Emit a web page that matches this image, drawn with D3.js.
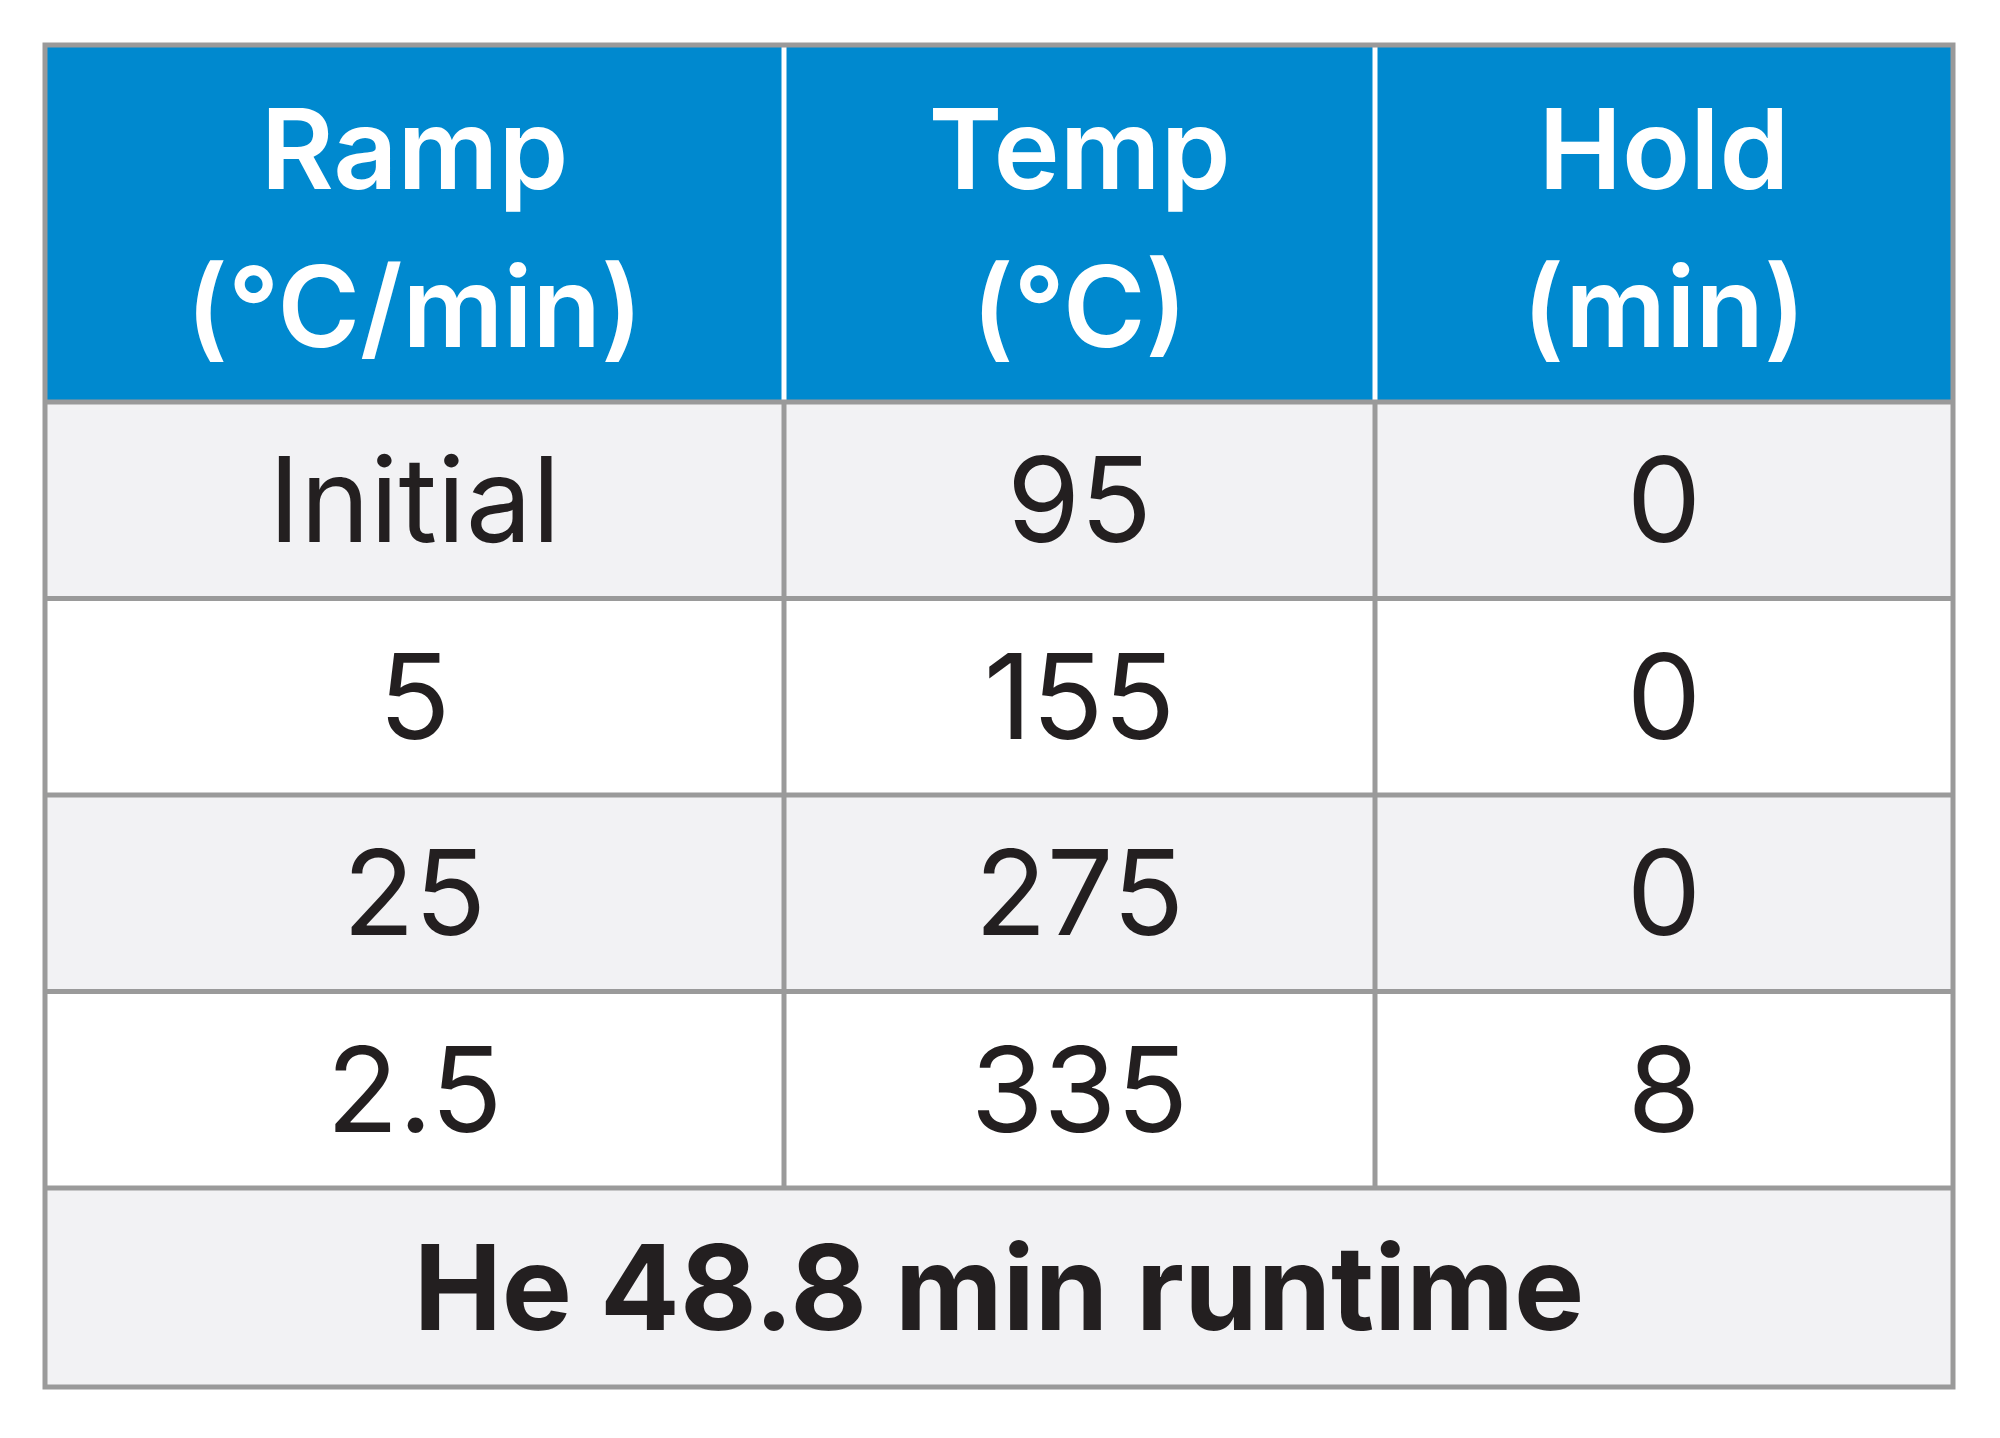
<!DOCTYPE html>
<html><head><meta charset="utf-8">
<script src="https://cdn.jsdelivr.net/npm/d3@7"></script>
<style>body{margin:0;background:#fff}</style></head>
<body><svg id="c" width="2000" height="1438"></svg>
<script>
const headers = [["Ramp","(°C/min)"],["Temp","(°C)"],["Hold","(min)"]];
const ramp = ["Initial","5","25","2.5"];
const temp = ["95","155","275","335"];
const hold = ["0","0","0","8"];
const footer = "He 48.8 min runtime";

const svg = d3.select("#c");
const L=45,R=1953,T=45,HB=402,RB=1188,B=1387;
const colEdges=[L,784,1375,R];
const x0 = i=>colEdges[i], xc=i=>(colEdges[i]+colEdges[i+1])/2;
const y = d3.scaleBand().domain(d3.range(4)).range([HB,RB]);
const font="Inter, 'Liberation Sans', Arial, sans-serif";

// header
svg.append("rect").attr("x",L).attr("y",T).attr("width",R-L).attr("height",HB-T).attr("fill","#0089CF");
// rows
svg.selectAll(".row").data(d3.range(4)).join("rect")
  .attr("x",L).attr("y",i=>y(i)).attr("width",R-L).attr("height",y.bandwidth())
  .attr("fill",i=>i%2===0?"#F2F2F4":"#FFFFFF");
svg.append("rect").attr("x",L).attr("y",RB).attr("width",R-L).attr("height",B-RB).attr("fill","#F2F2F4");

// header text
headers.forEach((h,i)=>{
  h.forEach((t,j)=>svg.append("text").attr("x",xc(i)).attr("y",j?347:189)
    .attr("text-anchor","middle").attr("font-family",font).attr("font-weight",600)
    .attr("font-size",112).attr("fill","#fff").text(t));
});
// body text
[ramp,temp,hold].forEach((col,ci)=>{
  svg.selectAll(null).data(col).join("text")
    .attr("x",xc(ci)).attr("y",(d,i)=>y(i)+y.bandwidth()/2+42)
    .attr("text-anchor","middle").attr("font-family",font).attr("font-weight",400)
    .attr("font-size",118).attr("fill","#231F20").text(d=>d);
});
svg.append("text").attr("x",(L+R)/2).attr("y",(RB+B)/2+42).attr("text-anchor","middle")
  .attr("font-family",font).attr("font-weight",700).attr("font-size",118).attr("fill","#231F20").text(footer);

// grid lines
const g="#9A9A9A";
[1,2].forEach(i=>{
  svg.append("line").attr("x1",x0(i)).attr("x2",x0(i)).attr("y1",T).attr("y2",HB).attr("stroke","#fff").attr("stroke-width",5);
  svg.append("line").attr("x1",x0(i)).attr("x2",x0(i)).attr("y1",HB).attr("y2",RB).attr("stroke",g).attr("stroke-width",5);
});
[HB,...d3.range(1,4).map(i=>y(i)),RB].forEach(v=>svg.append("line").attr("x1",L).attr("x2",R).attr("y1",v).attr("y2",v).attr("stroke",g).attr("stroke-width",5));
svg.append("rect").attr("x",L).attr("y",T).attr("width",R-L).attr("height",B-T).attr("fill","none").attr("stroke",g).attr("stroke-width",5);
</script></body></html>
